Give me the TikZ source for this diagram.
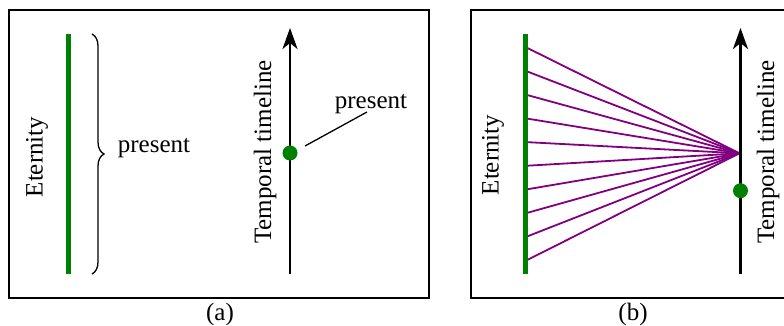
\documentclass[tikz,border=0pt]{standalone}
\usepackage{fontspec}
\setmainfont{Liberation Serif}
\usetikzlibrary{arrows.meta,decorations.pathreplacing}
\definecolor{eterngreen}{RGB}{0,128,0}
\definecolor{rayviolet}{RGB}{128,0,128}
\begin{document}
\begin{tikzpicture}[x=1pt,y=-1pt,
  panel/.style={draw=black,line width=1.4pt},
  eternline/.style={draw=eterngreen,line width=5pt},
  timeline/.style={draw=black,line width=2.8pt,-{Stealth[length=21pt,width=15pt,inset=6pt]}},
  raystyle/.style={draw=rayviolet,line width=1.8pt},
  bracestyle/.style={draw=black,line width=1.3pt,decorate,decoration={brace,amplitude=12pt}},
  dotstyle/.style={circle,fill=eterngreen,inner sep=0pt,minimum size=15pt},
  lbl/.style={font=\fontsize{25}{30}\selectfont,inner sep=0pt},
]
\useasboundingbox (0,0) rectangle (784,326);
% panel (a)
\node[panel,minimum width=420pt,minimum height=288pt,inner sep=0pt] (boxa) at (219,154) {};
\coordinate (etaTop) at (68,34);
\coordinate (etaBot) at (68,274);
\draw[eternline] (etaTop) -- (etaBot);
\node[lbl,rotate=90] (etalbl) at (37,157) {Eternity};
\coordinate (brTop) at (92,34);
\coordinate (brBot) at (92,274);
\draw[bracestyle] (brTop) -- (brBot);
\node[lbl] (presa) at (154,148) {present};
\coordinate (tlaBot) at (290,274);
\coordinate (tlaTop) at (290,28);
\draw[timeline] (tlaBot) -- (tlaTop);
\node[lbl,rotate=90] (tlalbl) at (265,152) {Temporal timeline};
\node[dotstyle] (dota) at (290,153) {};
\node[lbl] (presb) at (371,104) {present};
\coordinate (leadS) at (305,146);
\coordinate (leadE) at (367,112);
\draw[line width=1.3pt] (leadS) -- (leadE);
\node[lbl] (capa) at (220,314) {(a)};
% panel (b)
\draw[panel] (471,10) rectangle (790,298);
\coordinate (etbTop) at (525,34);
\coordinate (etbBot) at (525,274);
\coordinate (apex) at (739.5,153.3);
\foreach \i in {0,...,9}{
  \coordinate (r\i) at (526,{47.3+\i*23.7});
  \draw[raystyle] (r\i) -- (apex);
}
\draw[eternline] (etbTop) -- (etbBot);
\node[lbl,rotate=90] (etblbl) at (493,155) {Eternity};
\coordinate (tlbBot) at (740.5,274);
\coordinate (tlbTop) at (740.5,28);
\draw[timeline] (tlbBot) -- (tlbTop);
\node[lbl,rotate=90] (tlblbl) at (768,152) {Temporal timeline};
\node[dotstyle] (dotb) at (740.5,190.7) {};
\node[lbl] (capb) at (633,314) {(b)};
\end{tikzpicture}
\end{document}
